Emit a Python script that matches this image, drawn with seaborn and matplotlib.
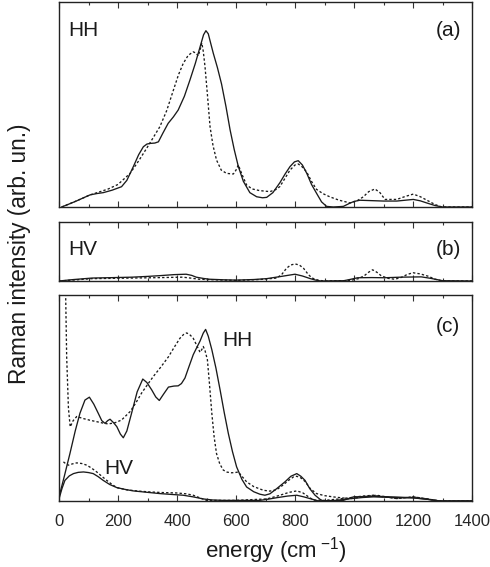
import matplotlib
matplotlib.use("Agg")
import matplotlib.pyplot as plt
import seaborn as sns
from matplotlib.ticker import MultipleLocator

# ---------------- data (energy in cm^-1, intensity in arb. units) ----------------
# panel (a) HH
a_solid_x = [9, 30, 60, 105, 130, 150, 180, 212, 230, 252, 270, 286, 298, 308, 325, 337, 352, 370,
             388, 404, 425, 444, 462, 478, 490, 498, 506, 514, 523, 537, 551, 566, 580, 594, 608,
             625, 647, 670, 690, 704, 725, 749, 766, 783, 798, 811, 825, 840, 856, 873, 890, 907,
             930, 964, 985, 1000, 1020, 1100, 1145, 1180, 1201, 1225, 1246, 1275, 1300, 1400]
a_solid_y = [0.0, 0.012, 0.03, 0.059, 0.066, 0.07, 0.082, 0.099, 0.13, 0.197, 0.255, 0.294, 0.307,
             0.31, 0.312, 0.318, 0.36, 0.408, 0.44, 0.473, 0.54, 0.62, 0.70, 0.78, 0.84, 0.86,
             0.845, 0.80, 0.75, 0.68, 0.60, 0.49, 0.376, 0.28, 0.197, 0.125, 0.07, 0.05, 0.045,
             0.047, 0.07, 0.119, 0.16, 0.197, 0.22, 0.226, 0.205, 0.164, 0.11, 0.067, 0.025, 0.003,
             0.0, 0.003, 0.018, 0.027, 0.033, 0.029, 0.029, 0.034, 0.037, 0.03, 0.02, 0.007, 0.0,
             0.0]
a_dash_x = [9, 60, 105, 140, 167, 200, 241, 270, 297, 320, 342, 365, 388, 405, 421, 438, 455, 465,
            472, 479, 484, 489, 495, 503, 512, 522, 534, 550, 568, 591, 600, 608, 620, 636, 655,
            680, 715, 735, 749, 766, 783, 800, 811, 825, 840, 856, 873, 895, 919, 950, 986, 1010,
            1031, 1050, 1071, 1088, 1105, 1145, 1175, 1201, 1225, 1246, 1275, 1297, 1400]
a_dash_y = [0.0, 0.03, 0.059, 0.075, 0.088, 0.11, 0.164, 0.225, 0.286, 0.34, 0.392, 0.47, 0.571,
            0.645, 0.70, 0.74, 0.757, 0.75, 0.737, 0.77, 0.80, 0.76, 0.684, 0.55, 0.392, 0.30,
            0.229, 0.18, 0.164, 0.161, 0.18, 0.205, 0.16, 0.107, 0.088, 0.08, 0.075, 0.085, 0.10,
            0.14, 0.18, 0.205, 0.21, 0.195, 0.17, 0.125, 0.086, 0.065, 0.049, 0.033, 0.02, 0.03,
            0.049, 0.075, 0.088, 0.07, 0.037, 0.037, 0.052, 0.063, 0.05, 0.034, 0.012, 0.0, 0.0]

# panel (b) HV
b_solid_x = [0, 50, 112, 180, 248, 300, 340, 390, 431, 450, 465, 490, 510, 560, 602, 660, 704, 750,
             800, 825, 852, 870, 887, 966, 990, 1012, 1060, 1103, 1160, 1228, 1260, 1300, 1400]
b_solid_y = [0.0, 0.025, 0.05, 0.057, 0.065, 0.078, 0.09, 0.108, 0.115, 0.095, 0.065, 0.043, 0.03,
             0.02, 0.015, 0.025, 0.04, 0.075, 0.115, 0.085, 0.04, 0.015, 0.0, 0.005, 0.03, 0.055,
             0.058, 0.055, 0.065, 0.07, 0.045, 0.005, 0.0]
b_dash_x = [0, 60, 112, 248, 350, 419, 445, 475, 540, 602, 680, 738, 755, 771, 785, 800, 815, 829,
            845, 858, 878, 898, 960, 989, 1015, 1035, 1050, 1063, 1077, 1092, 1115, 1138, 1160,
            1180, 1200, 1225, 1252, 1275, 1300, 1400]
b_dash_y = [0.0, 0.02, 0.04, 0.05, 0.058, 0.065, 0.05, 0.03, 0.018, 0.01, 0.025, 0.05, 0.11, 0.215,
            0.27, 0.29, 0.27, 0.215, 0.11, 0.05, 0.015, 0.0, 0.005, 0.01, 0.04, 0.09, 0.15, 0.19,
            0.15, 0.09, 0.045, 0.03, 0.06, 0.11, 0.14, 0.12, 0.08, 0.03, 0.0, 0.0]

# panel (c) HH
c_hh_solid_x = [0, 18, 37, 55, 71, 88, 103, 118, 133, 145, 156, 165, 173, 185, 196, 208, 218, 230,
                246, 265, 284, 298, 314, 328, 340, 355, 371, 390, 404, 415, 427, 440, 455, 467,
                478, 489, 497, 506, 518, 532, 546, 560, 574, 588, 602, 620, 636, 660, 681, 698,
                715, 738, 766, 786, 806, 820, 834, 850, 868, 885, 896, 964, 998, 1066, 1201, 1250,
                1292, 1400]
c_hh_solid_y = [0.02, 0.12, 0.23, 0.34, 0.426, 0.49, 0.504, 0.47, 0.426, 0.39, 0.377, 0.39, 0.397,
                0.38, 0.361, 0.325, 0.307, 0.34, 0.426, 0.53, 0.592, 0.575, 0.54, 0.505, 0.488,
                0.52, 0.553, 0.558, 0.559, 0.57, 0.597, 0.65, 0.71, 0.745, 0.776, 0.815, 0.833,
                0.80, 0.735, 0.645, 0.54, 0.43, 0.328, 0.24, 0.166, 0.105, 0.068, 0.045, 0.033,
                0.028, 0.035, 0.06, 0.093, 0.12, 0.133, 0.12, 0.10, 0.06, 0.028, 0.008, 0.0, 0.003,
                0.02, 0.023, 0.016, 0.008, 0.0, 0.0]
c_hh_dash_x = [22, 26, 32, 38, 48, 60, 83, 105, 128, 150, 167, 190, 212, 241, 260, 280, 300, 320,
               345, 371, 390, 410, 422, 433, 445, 455, 467, 478, 484, 489, 495, 503, 510, 518, 526,
               534, 545, 557, 570, 585, 597, 608, 620, 636, 660, 693, 715, 738, 760, 778, 795, 806,
               820, 834, 852, 873, 900, 929, 986, 1030, 1077, 1110, 1145, 1201, 1250, 1290, 1400]
c_hh_dash_y = [1.05, 0.7, 0.45, 0.36, 0.39, 0.41, 0.40, 0.392, 0.385, 0.378, 0.374, 0.38, 0.393,
               0.434, 0.475, 0.524, 0.565, 0.605, 0.65, 0.70, 0.745, 0.79, 0.808, 0.816, 0.805,
               0.79, 0.755, 0.722, 0.735, 0.75, 0.73, 0.686, 0.57, 0.426, 0.31, 0.23, 0.18, 0.15,
               0.14, 0.137, 0.138, 0.141, 0.12, 0.093, 0.07, 0.052, 0.048, 0.055, 0.078, 0.10,
               0.117, 0.12, 0.112, 0.095, 0.06, 0.036, 0.026, 0.02, 0.011, 0.02, 0.028, 0.02,
               0.012, 0.02, 0.01, 0.0, 0.0]

# panel (c) HV
c_hv_solid_x = [0, 10, 20, 35, 49, 65, 83, 100, 116, 133, 150, 172, 196, 225, 252, 300, 342, 380,
                421, 455, 489, 520, 557, 680, 710, 738, 775, 806, 830, 850, 880, 940, 986, 1030,
                1066, 1140, 1201, 1250, 1290, 1400]
c_hv_solid_y = [0.01, 0.06, 0.10, 0.122, 0.133, 0.139, 0.141, 0.138, 0.133, 0.118, 0.10, 0.08,
                0.065, 0.056, 0.049, 0.042, 0.036, 0.032, 0.028, 0.02, 0.01, 0.005, 0.003, 0.003,
                0.009, 0.016, 0.024, 0.028, 0.02, 0.012, 0.0, 0.003, 0.011, 0.017, 0.02, 0.017,
                0.015, 0.008, 0.0, 0.0]
c_hv_dash_x = [15, 24, 32, 45, 60, 77, 94, 110, 128, 145, 162, 180, 196, 230, 270, 308, 350, 399,
               430, 455, 478, 500, 600, 704, 730, 749, 780, 806, 826, 846, 863, 900, 950, 986,
               1030, 1066, 1100, 1145, 1175, 1201, 1240, 1290, 1400]
c_hv_dash_y = [0.19, 0.18, 0.174, 0.18, 0.185, 0.182, 0.174, 0.16, 0.141, 0.12, 0.10, 0.08, 0.065,
               0.054, 0.048, 0.044, 0.041, 0.039, 0.035, 0.028, 0.015, 0.003, 0.003, 0.01, 0.02,
               0.028, 0.042, 0.049, 0.04, 0.02, 0.004, 0.003, 0.01, 0.016, 0.024, 0.028, 0.02,
               0.012, 0.016, 0.02, 0.012, 0.0, 0.0]

x_ticks = [0, 200, 400, 600, 800, 1000, 1200, 1400]

# ---------------- style ----------------
sns.set_style("ticks")
plt.rcParams["font.family"] = ["Liberation Sans", "DejaVu Sans"]
plt.rcParams["mathtext.fontset"] = "custom"
plt.rcParams["mathtext.rm"] = "Liberation Sans"
plt.rcParams["mathtext.it"] = "Liberation Sans"

fig = plt.figure(figsize=(4.9, 5.67), dpi=100)
L, W = 59 / 490, 413 / 490
H = 567.0
ax_a = fig.add_axes([L, (H - 207) / H, W, 205 / H])
ax_b = fig.add_axes([L, (H - 281) / H, W, 59 / H])
ax_c = fig.add_axes([L, (H - 501) / H, W, 206 / H])

dash = (0, (1.8, 1.6))
lw = 0.95
col = "#1a1a1a"

sns.lineplot(x=a_solid_x, y=a_solid_y, ax=ax_a, color=col, lw=lw, sort=False)
sns.lineplot(x=a_dash_x, y=a_dash_y, ax=ax_a, color=col, lw=lw, linestyle=dash, sort=False)
sns.lineplot(x=b_solid_x, y=b_solid_y, ax=ax_b, color=col, lw=lw, sort=False)
sns.lineplot(x=b_dash_x, y=b_dash_y, ax=ax_b, color=col, lw=lw, linestyle=dash, sort=False)
sns.lineplot(x=c_hh_solid_x, y=c_hh_solid_y, ax=ax_c, color=col, lw=lw, sort=False)
sns.lineplot(x=c_hh_dash_x, y=c_hh_dash_y, ax=ax_c, color=col, lw=lw, linestyle=dash, sort=False)
sns.lineplot(x=c_hv_solid_x, y=c_hv_solid_y, ax=ax_c, color=col, lw=lw, sort=False)
sns.lineplot(x=c_hv_dash_x, y=c_hv_dash_y, ax=ax_c, color=col, lw=lw, linestyle=dash, sort=False)

for ax in (ax_a, ax_b, ax_c):
    ax.set_xlim(0, 1400)
    ax.set_ylim(0, 1)
    ax.set_yticks([])
    ax.set_xticks(x_ticks)
    ax.xaxis.set_minor_locator(MultipleLocator(100))
    ax.tick_params(axis="x", which="major", direction="in", top=True, bottom=True,
                   length=4, width=0.8, color="#333333", labelsize=12, pad=9)
    ax.tick_params(axis="x", which="minor", direction="in", top=True, bottom=True,
                   length=2.5, width=0.8, color="#333333")
    for s in ax.spines.values():
        s.set_visible(True)
        s.set_linewidth(1.0)
        s.set_color("#222222")
    ax.set_xlabel("")
    ax.set_ylabel("")

ax_a.tick_params(axis="x", labelbottom=False)
ax_b.tick_params(axis="x", labelbottom=False)
ax_c.set_xticklabels([str(t) for t in x_ticks])

txt = dict(fontsize=15, color="#1a1a1a")
ax_a.text(0.022, 0.863, "HH", transform=ax_a.transAxes, ha="left", va="center", **txt)
ax_a.text(0.973, 0.863, "(a)", transform=ax_a.transAxes, ha="right", va="center", **txt)
ax_b.text(0.022, 0.54, "HV", transform=ax_b.transAxes, ha="left", va="center", **txt)
ax_b.text(0.973, 0.54, "(b)", transform=ax_b.transAxes, ha="right", va="center", **txt)
ax_c.text(0.395, 0.78, "HH", transform=ax_c.transAxes, ha="left", va="center", **txt)
ax_c.text(0.109, 0.16, "HV", transform=ax_c.transAxes, ha="left", va="center", **txt)
ax_c.text(0.971, 0.845, "(c)", transform=ax_c.transAxes, ha="right", va="center", **txt)

fig.text(276 / 490, 1 - 551 / H, r"energy (cm$^{\;\mathregular{-1}}$)", ha="center", va="center",
         fontsize=16, color="#1a1a1a")
fig.text(20 / 490, 1 - 254 / H, "Raman intensity (arb. un.)", rotation=90,
         ha="center", va="center", fontsize=16.3, color="#1a1a1a")

fig.savefig("out.png", dpi=100)
